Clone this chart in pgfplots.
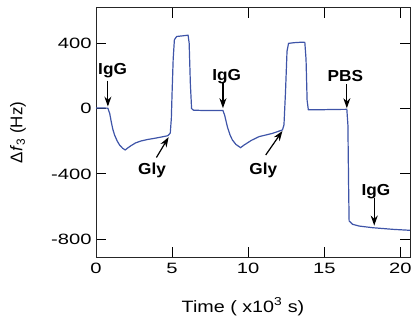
\documentclass[border=0pt]{standalone}
\usepackage{fontspec}
\setmainfont{Liberation Sans}
\newfontfamily\tickfont{Liberation Sans}[FakeStretch=1.35]
\newfontfamily\xlabfont{Liberation Sans}[FakeStretch=1.2]
\newfontfamily\annfont{Liberation Sans}[FakeStretch=1.08]
\usepackage{pgfplots}
\pgfplotsset{compat=1.18}
\usetikzlibrary{arrows.meta}
\definecolor{curve}{RGB}{62,84,168}
\begin{document}
\begin{tikzpicture}
\begin{axis}[
  scale only axis,
  width=314bp, height=249bp,
  xmin=0, xmax=20.63, ymin=-907, ymax=614,
  xtick={0,5,10,15,20}, xticklabels={0,5,10,15,20},
  ytick={-800,-400,0,400}, yticklabels={-800,-400,0,400},
  tick align=inside,
  major tick length=10bp,
  tick style={line width=1bp, black},
  axis line style={line width=1bp, black!85},
  ticklabel style={font=\tickfont\fontsize{15}{18}\selectfont},
  xticklabel style={yshift=-3bp},
  yticklabel style={xshift=-1bp},
  clip=false,
]
\addplot[curve, line width=1.2bp] coordinates {
(0,3) (0.5,3) (0.78,2) (0.9,-30) (1.0,-80) (1.1,-125) (1.22,-162) (1.4,-200) (1.55,-223) (1.75,-243) (1.92,-253) (2.1,-240) (2.3,-227) (2.6,-210) (2.97,-198) (3.4,-189) (3.85,-182) (4.3,-174) (4.72,-166) (4.88,-150) (4.95,-60) (5.0,100) (5.07,300) (5.15,420) (5.3,440) (5.7,444) (6.05,448) (6.12,400) (6.2,150) (6.28,0) (6.4,-10) (7,-12) (8.0,-12) (8.34,-12) (8.45,-40) (8.63,-111) (8.8,-160) (8.96,-192) (9.2,-220) (9.5,-239) (9.73,-223) (10.2,-195) (10.71,-172) (11.1,-163) (11.59,-152) (11.9,-142) (12.25,-131) (12.35,-100) (12.45,100) (12.55,350) (12.65,398) (13.0,402) (13.5,405) (13.72,404) (13.8,300) (13.87,50) (13.95,-7) (14.5,-8) (15.5,-6) (16.48,-5) (16.55,-100) (16.6,-500) (16.63,-687) (16.85,-707) (17.29,-718) (18.17,-728) (19.5,-738) (20.63,-744)
};
\coordinate (sw) at (rel axis cs:0,0);
\coordinate (ne) at (rel axis cs:1,1);
\coordinate (ylab) at (rel axis cs:0,0.5);
\tikzset{ann/.style={font=\annfont\bfseries\fontsize{16}{19}\selectfont, anchor=base, inner sep=0pt},
         arr/.style={-{Stealth[length=10bp,width=7bp]}, line width=1.2bp, black}}
\node[ann] at (axis cs:1.09,205) {IgG};
\draw[arr] (axis cs:0.78,170) -- (axis cs:0.78,12);
\node[ann] at (axis cs:3.68,-403) {Gly};
\draw[arr] (axis cs:3.97,-299) -- (axis cs:4.77,-175);
\node[ann] at (axis cs:8.59,174) {IgG};
\draw[arr] (axis cs:8.34,160) -- (axis cs:8.34,2);
\node[ann] at (axis cs:10.99,-403) {Gly};
\draw[arr] (axis cs:11.15,-284) -- (axis cs:12.25,-137);
\node[ann] at (axis cs:16.38,162) {PBS};
\draw[arr] (axis cs:16.48,150) -- (axis cs:16.48,2);
\node[ann] at (axis cs:18.39,-534) {IgG};
\draw[arr] (axis cs:18.28,-545) -- (axis cs:18.28,-715);
\end{axis}
\node[rotate=90, font=\fontsize{17}{20}\selectfont] at ([xshift=-78bp]ylab) {Δ\textit{f}\textsubscript{3} (Hz)};
\node[anchor=base, font=\xlabfont\fontsize{16.5}{19}\selectfont] at ([xshift=147bp,yshift=-55bp]sw) {Time ( x10\textsuperscript{3} s)};
\pgfresetboundingbox
\path ([shift={(-96bp,-65bp)}]sw) rectangle ([shift={(2bp,8bp)}]ne);
\end{tikzpicture}
\end{document}
